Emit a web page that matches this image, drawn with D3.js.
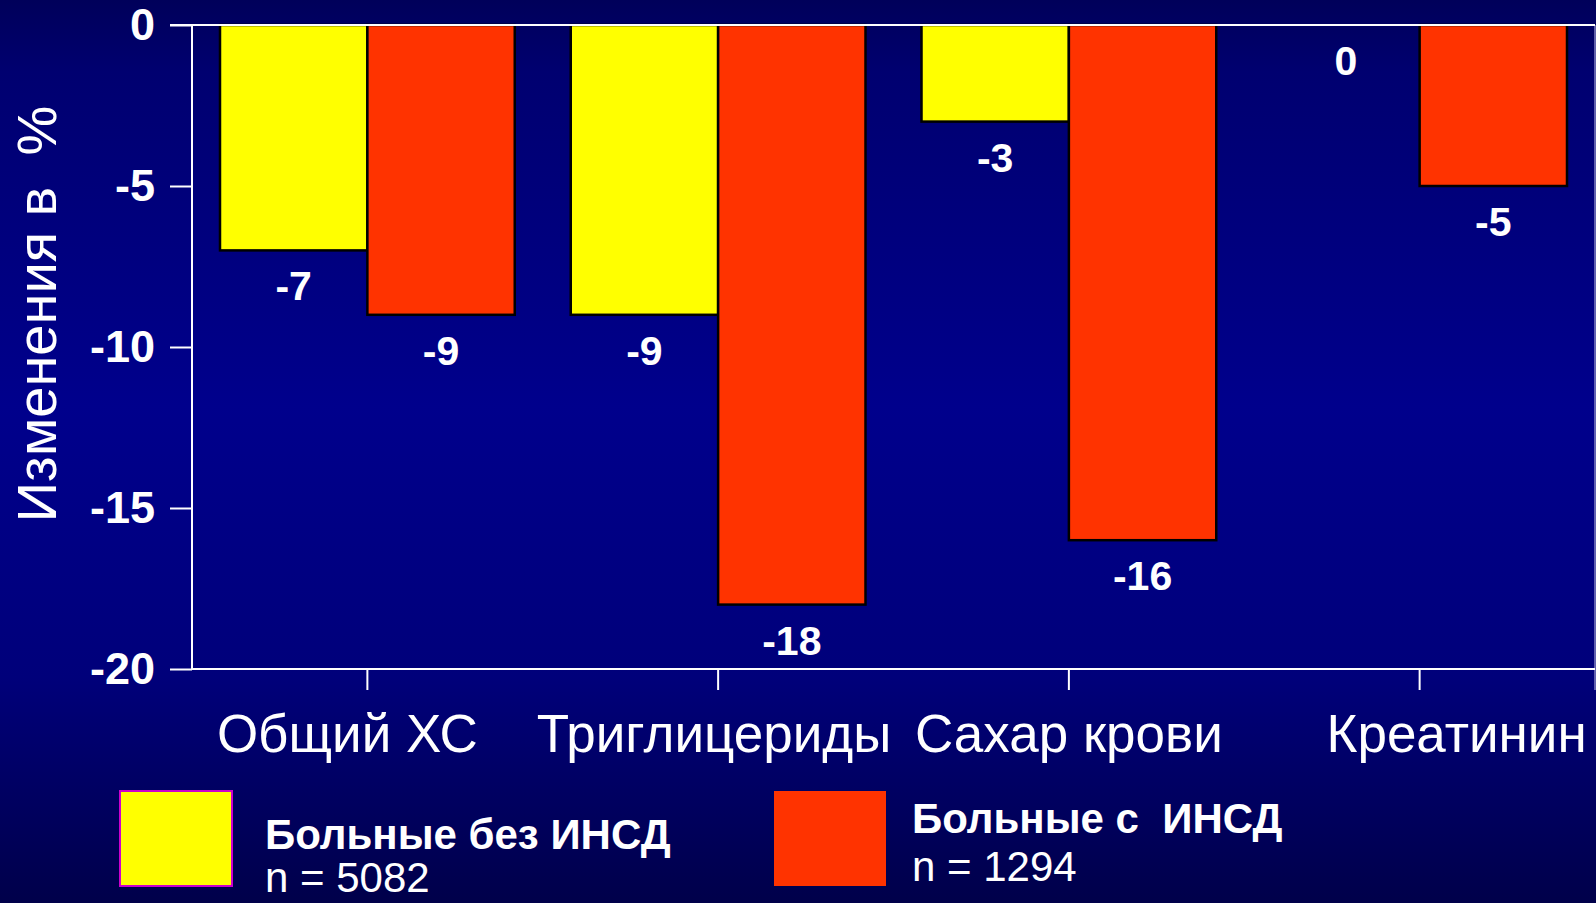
<!DOCTYPE html>
<html>
<head>
<meta charset="utf-8">
<script src="https://cdn.jsdelivr.net/npm/d3@7/dist/d3.min.js"></script>
<style>
  html, body { margin: 0; padding: 0; background: #000060; overflow: hidden; }
  svg { display: block; font-family: "Liberation Sans", Arial, sans-serif; }
</style>
</head>
<body>
<svg id="chart" width="1596" height="903"></svg>
<script>
// Percent change by indicator, for patients without / with insulin-dependent diabetes
const categories = ["Общий ХС", "Триглицериды", "Сахар крови", "Креатинин"];
const seriesNames = ["Больные без ИНСД", "Больные с  ИНСД"];
const seriesCounts = ["n = 5082", "n = 1294"];
const withoutIDDM = [-7, -9, -3, 0];
const withIDDM = [-9, -18, -16, -5];
const yTicks = [0, -5, -10, -15, -20];
const yTitle = "Изменения в  %";
const colors = ["#ffff00", "#ff3300"];

const svg = d3.select("#chart");
const W = 1596, H = 903;

// Background: dark navy vertical gradient
const defs = svg.append("defs");
const grad = defs.append("linearGradient").attr("id", "bg").attr("x1", 0).attr("y1", 0).attr("x2", 0).attr("y2", 1);
grad.append("stop").attr("offset", "0%").attr("stop-color", "#00005a");
grad.append("stop").attr("offset", "8%").attr("stop-color", "#000070");
grad.append("stop").attr("offset", "45%").attr("stop-color", "#00008c");
grad.append("stop").attr("offset", "75%").attr("stop-color", "#00007a");
grad.append("stop").attr("offset", "100%").attr("stop-color", "#00004a");
svg.append("rect").attr("width", W).attr("height", H).attr("fill", "url(#bg)");

const plot = { left: 192, right: 1595, top: 25, bottom: 669 };

const x = d3.scaleBand().domain(categories).range([plot.left, plot.right]).padding(0);
const xs = d3.scaleBand().domain(seriesNames).range([0, x.bandwidth()]).paddingInner(0).paddingOuter(0.19);
const y = d3.scaleLinear().domain([-20, 0]).range([plot.bottom, plot.top]);

const rows = categories.map((c, i) => ({ cat: c, vals: [withoutIDDM[i], withIDDM[i]] }));

// Plot frame (right edge)
svg.append("line")
  .attr("x1", plot.right).attr("x2", plot.right)
  .attr("y1", plot.top).attr("y2", plot.bottom + 21)
  .attr("stroke", "#8080c0").attr("stroke-width", 1.5);

// Bars
const groups = svg.append("g").selectAll("g").data(rows).join("g")
  .attr("transform", d => `translate(${x(d.cat)},0)`);

groups.selectAll("rect").data(d => d.vals.map((v, j) => ({ v, j })).filter(e => e.v !== 0)).join("rect")
  .attr("x", e => xs(seriesNames[e.j]))
  .attr("width", xs.bandwidth())
  .attr("y", y(0))
  .attr("height", e => y(e.v) - y(0))
  .attr("fill", e => colors[e.j])
  .attr("stroke", "#000")
  .attr("stroke-width", 2.5);

// Value labels under bar ends
groups.selectAll("text.val").data(d => d.vals.map((v, j) => ({ v, j }))).join("text")
  .attr("class", "val")
  .attr("x", e => xs(seriesNames[e.j]) + xs.bandwidth() / 2)
  .attr("y", e => y(e.v) + 36)
  .attr("text-anchor", "middle")
  .attr("dominant-baseline", "central")
  .attr("fill", "#fff")
  .attr("font-weight", "bold")
  .attr("font-size", 41)
  .text(e => d3.format("d")(e.v).replace("−", "-"));

// Y axis
const yAxis = d3.axisLeft(y).tickValues(yTicks).tickSize(22).tickPadding(15)
  .tickFormat(d => String(d));
const gy = svg.append("g").attr("transform", `translate(${plot.left},0)`).call(yAxis);
gy.select(".domain").attr("stroke", "#fff").attr("stroke-width", 2).attr("d", `M0,${plot.top}V${plot.bottom}`);
gy.selectAll(".tick line").attr("stroke", "#fff").attr("stroke-width", 2);
gy.selectAll(".tick text").attr("fill", "#fff").attr("font-size", 45).attr("font-weight", "bold")
  .attr("font-family", "'Liberation Sans', Arial, sans-serif");

// Zero line across the top of the plot
svg.append("line")
  .attr("x1", plot.left - 22).attr("x2", plot.right)
  .attr("y1", y(0)).attr("y2", y(0))
  .attr("stroke", "#fff").attr("stroke-width", 2);

// X axis along the bottom, ticks at category centers
const labelShift = [-20, -4, 0, 37];
const gx = svg.append("g").attr("transform", `translate(0,${plot.bottom})`);
gx.append("line").attr("x1", plot.left).attr("x2", plot.right).attr("y1", 0).attr("y2", 0)
  .attr("stroke", "#fff").attr("stroke-width", 2);
gx.selectAll("line.tick").data(categories).join("line")
  .attr("class", "tick")
  .attr("x1", d => x(d) + x.bandwidth() / 2).attr("x2", d => x(d) + x.bandwidth() / 2)
  .attr("y1", 0).attr("y2", 21)
  .attr("stroke", "#fff").attr("stroke-width", 2);
gx.selectAll("text").data(categories).join("text")
  .attr("x", (d, i) => x(d) + x.bandwidth() / 2 + labelShift[i])
  .attr("y", 64)
  .attr("text-anchor", "middle")
  .attr("dominant-baseline", "central")
  .attr("fill", "#fff")
  .attr("font-size", 53)
  .text(d => d);

// Y axis title
svg.append("text")
  .attr("transform", `translate(36,314) rotate(-90)`)
  .attr("text-anchor", "middle")
  .attr("dominant-baseline", "central")
  .attr("fill", "#fff")
  .attr("font-size", 56)
  .style("white-space", "pre")
  .text(yTitle);

// Legend
const legend = [
  { sx: 120, sy: 791, sw: 112, sh: 95, stroke: "#cc00cc", tx: 265, ty1: 849, ty2: 892 },
  { sx: 774, sy: 791, sw: 112, sh: 95, stroke: "none", tx: 912, ty1: 833, ty2: 881 }
];
const lg = svg.append("g").selectAll("g").data(seriesNames).join("g");
lg.append("rect")
  .attr("x", (d, i) => legend[i].sx).attr("y", (d, i) => legend[i].sy)
  .attr("width", (d, i) => legend[i].sw).attr("height", (d, i) => legend[i].sh)
  .attr("fill", (d, i) => colors[i])
  .attr("stroke", (d, i) => legend[i].stroke).attr("stroke-width", 2);
lg.append("text")
  .attr("x", (d, i) => legend[i].tx).attr("y", (d, i) => legend[i].ty1)
  .attr("fill", "#fff").attr("font-weight", "bold").attr("font-size", 42)
  .style("white-space", "pre")
  .text(d => d);
lg.append("text")
  .attr("x", (d, i) => legend[i].tx).attr("y", (d, i) => legend[i].ty2)
  .attr("fill", "#fff").attr("font-size", 42)
  .text((d, i) => seriesCounts[i]);
</script>
</body>
</html>
